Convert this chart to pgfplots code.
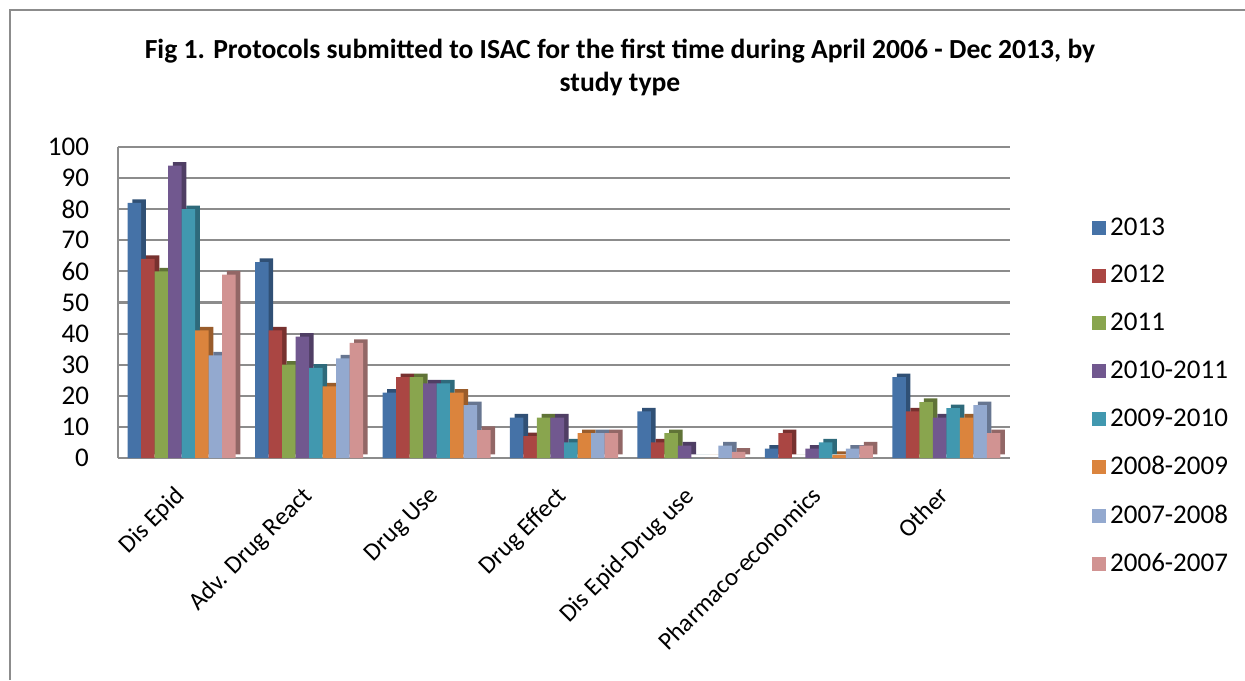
\documentclass[border=0pt]{standalone}
\usepackage{fontspec}
\setmainfont{Carlito}
\usepackage{pgfplots}
\usepackage{pgfplotstable}
\pgfplotsset{compat=1.18}
\definecolor{c1}{HTML}{4572A7}
\definecolor{c2}{HTML}{AA4643}
\definecolor{c3}{HTML}{89A54E}
\definecolor{c4}{HTML}{71588F}
\definecolor{c5}{HTML}{4198AF}
\definecolor{c6}{HTML}{DB843D}
\definecolor{c7}{HTML}{93A9CF}
\definecolor{c8}{HTML}{D19392}
\definecolor{gridc}{HTML}{8C8C8C}
\pgfplotstableread{
x a b c d e f g h
0 82 64 60 94 80 41 33 59
1 63 41 30 39 29 23 32 37
2 21 26 26 24 24 21 17 9
3 13 7 13 13 5 8 8 8
4 15 5 8 4 0 0 4 2
5 3 8 0 3 5 1 3 4
6 26 15 18 13 16 13 17 8
}\datatable
\newcommand{\barpair}[3]{%
  \addplot[forget plot, ybar, bar width=6.75pt, bar shift=#2pt+2.3pt, yshift=1.8pt, fill=#3!70!black, draw=none] table[x=x,y=#1]{\datatable};
  \addplot[ybar, bar width=6.75pt, bar shift=#2pt, fill=#3, draw=none] table[x=x,y=#1]{\datatable};
}
\begin{document}
\begin{tikzpicture}
\useasboundingbox (0,0) rectangle (622.5pt,340pt);
\draw[gridc, line width=0.8pt] (5pt,0) -- (5pt,335pt) -- (622.5pt,335pt);
\node[font=\bfseries\fontsize{13.8}{16.5}\selectfont, align=center] at (310pt,306.5pt) {Fig 1. Protocols submitted to ISAC for the first time during April 2006 - Dec 2013, by\\ study type};
\begin{axis}[
  at={(59pt,111pt)}, anchor=south west,
  scale only axis, width=446pt, height=155.5pt,
  xmin=-0.5, xmax=6.5, ymin=0, ymax=100,
  ytick={0,10,...,100},
  xtick={0,...,6},
  xticklabels={Dis Epid, Adv. Drug React, Drug Use, Drug Effect, Dis Epid-Drug use, Pharmaco-economics, Other},
  xticklabel style={rotate=45, anchor=north east, xshift=-9pt, yshift=-3pt, font=\fontsize{12.5}{15}\selectfont},
  yticklabel style={xshift=-11pt, font=\fontsize{13.5}{15}\selectfont},
  /pgf/number format/assume math mode=true,
  major tick length=0pt,
  axis x line*=bottom, axis y line*=left,
  axis line style={gridc, line width=1pt, -},
  ymajorgrids, major grid style={gridc, line width=1.1pt},
  legend style={at={(1.085,0.80)}, anchor=north west, draw=none, fill=none, font=\fontsize{13.5}{15}\selectfont, row sep=9.6pt},
  legend cell align=left,
  legend image code/.code={\fill[#1,draw=none] (0pt,-3.5pt) rectangle (7pt,3.5pt);},
]
\barpair{a}{-23.625}{c1}
\barpair{b}{-16.875}{c2}
\barpair{c}{-10.125}{c3}
\barpair{d}{-3.375}{c4}
\barpair{e}{3.375}{c5}
\barpair{f}{10.125}{c6}
\barpair{g}{16.875}{c7}
\barpair{h}{23.625}{c8}
\legend{2013,2012,2011,2010-2011,2009-2010,2008-2009,2007-2008,2006-2007}
\end{axis}
\end{tikzpicture}
\end{document}
